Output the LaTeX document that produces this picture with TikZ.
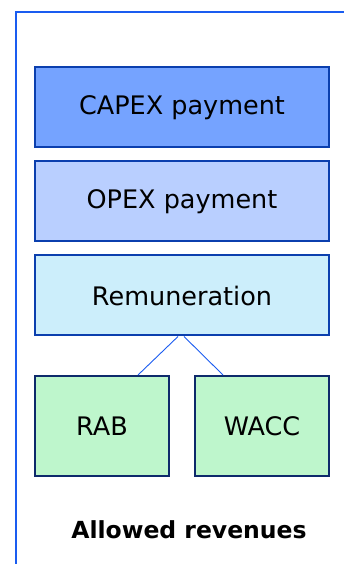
\documentclass[tikz,border=0pt]{standalone}
\usepackage{fontspec}
\setmainfont{DejaVu Sans}
\definecolor{frameblue}{HTML}{1A5CF0}
\definecolor{boxborder}{HTML}{0B3FAE}
\definecolor{navy}{HTML}{0E2A6B}
\definecolor{capexfill}{HTML}{75A3FF}
\definecolor{opexfill}{HTML}{B9CFFF}
\definecolor{remfill}{HTML}{CCEEFB}
\definecolor{greenfill}{HTML}{BEF6CC}
\begin{document}
\begin{tikzpicture}[x=1pt,y=1pt,
  bigbox/.style={draw=boxborder,line width=2pt,minimum width=294pt,minimum height=80pt,inner sep=0pt,font=\fontsize{25.5}{30}\selectfont,text=black},
  smallbox/.style={draw=navy,line width=2pt,minimum width=134pt,minimum height=100pt,inner sep=0pt,font=\fontsize{25.5}{30}\selectfont,text=black},
  link/.style={draw=frameblue,line width=0.9pt}]
\useasboundingbox (0,0) rectangle (344,564);
\begin{scope}
\clip (0,0) rectangle (344,564);
\draw[frameblue,line width=2pt] (16,-20) -- (16,552) -- (360,552);
\end{scope}
\node[bigbox,fill=capexfill] (capex) at (182,456.5) {CAPEX payment};
\node[bigbox,fill=opexfill] (opex) at (182,362.5) {OPEX payment};
\node[bigbox,fill=remfill] (rem) at (182,268.5) {Remuneration};
\node[smallbox,fill=greenfill] (rab) at (102,138) {RAB};
\node[smallbox,fill=greenfill] (wacc) at (262,138) {WACC};
\node[font=\fontsize{23.5}{28}\selectfont\bfseries] (title) at (189,34) {Allowed revenues};
\draw[link] ([xshift=-4pt]rem.south) -- ([xshift=36pt]rab.north);
\draw[link] ([xshift=2pt]rem.south) -- ([xshift=-39pt]wacc.north);
\end{tikzpicture}
\end{document}
